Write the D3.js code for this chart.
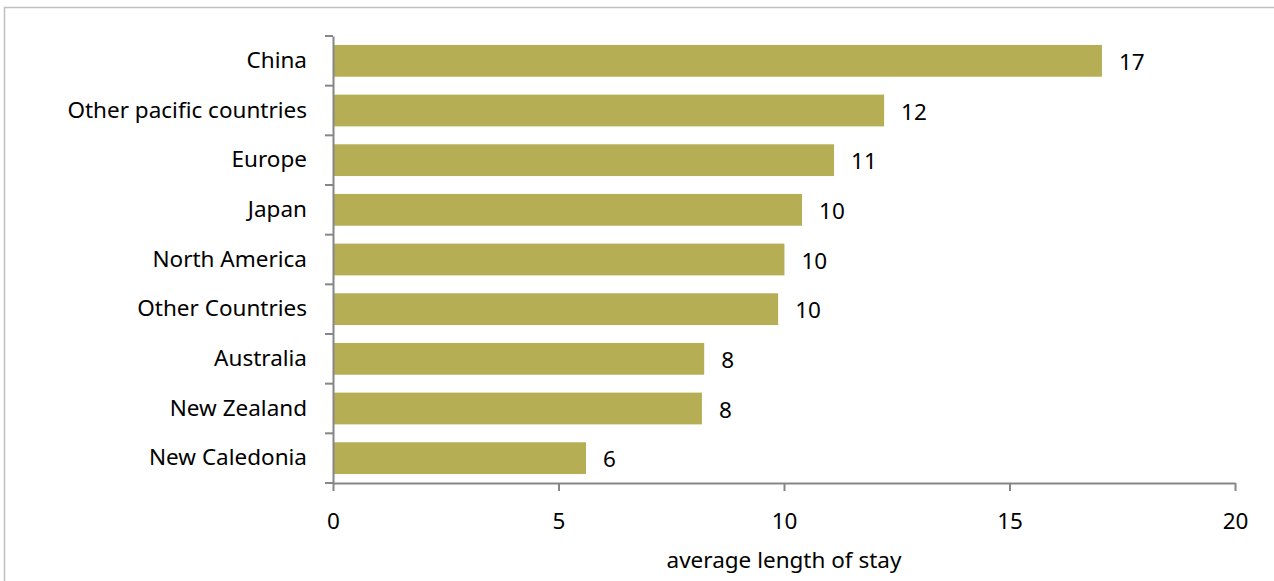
<!DOCTYPE html>
<html>
<head>
<meta charset="utf-8">
<script src="https://cdn.jsdelivr.net/npm/d3@7"></script>
<style>
  body { margin: 0; background: #fff; }
  text { font-family: "Noto Sans", sans-serif; fill: #000; }
</style>
</head>
<body>
<div class="canvas"></div>
<script>
// data
const categories = ['China', 'Other pacific countries', 'Europe', 'Japan', 'North America',
  'Other Countries', 'Australia', 'New Zealand', 'New Caledonia'];
const stayValues = [17.05, 12.22, 11.11, 10.4, 10.01, 9.87, 8.23, 8.18, 5.61];
const xTicks = [0, 5, 10, 15, 20];

const width = 1274;
const height = 581;
const fontSize = '22.5px';

const svg = d3.select('.canvas')
  .append('svg')
  .attr('width', width)
  .attr('height', height);

// chart frame (only top & left edge visible)
svg.append('path')
  .attr('d', 'M4.5,581 V7.5 H1274')
  .attr('fill', 'none')
  .attr('stroke', '#bfbfbf')
  .attr('stroke-width', 1.5);

// scales
const x = d3.scaleLinear()
  .domain([0, 20])
  .range([333, 1235]);

const y = d3.scaleBand()
  .domain(categories)
  .range([36, 483])
  .paddingInner(0.36)
  .paddingOuter(0.18);

const axisColor = '#868686';

// bars
svg.append('g')
  .selectAll('rect')
  .data(categories)
  .enter()
  .append('rect')
  .attr('x', x(0) + 1)
  .attr('y', d => y(d))
  .attr('width', (d, i) => x(stayValues[i]) - x(0) - 1)
  .attr('height', y.bandwidth())
  .attr('fill', '#b5ae55');

// value labels
svg.append('g')
  .selectAll('text')
  .data(categories)
  .enter()
  .append('text')
  .attr('x', (d, i) => x(stayValues[i]) + 17)
  .attr('y', d => y(d) + y.bandwidth() / 2)
  .attr('dy', '0.4em')
  .style('font-size', fontSize)
  .text((d, i) => Math.round(stayValues[i]));

// x axis
const xAxisGroup = svg.append('g')
  .attr('transform', `translate(0, 483)`)
  .call(d3.axisBottom(x).tickValues(xTicks).tickSize(8).tickSizeOuter(0).tickPadding(22));

xAxisGroup.select('.domain').attr('stroke', axisColor).attr('stroke-width', 2);
xAxisGroup.selectAll('.tick line').attr('stroke', axisColor).attr('stroke-width', 2);
xAxisGroup.selectAll('.tick text')
  .style('font-size', fontSize)
  .style('font-family', '"Noto Sans", sans-serif')
  .attr('fill', '#000');

// y axis: line + ticks between categories
const yAxisGroup = svg.append('g')
  .attr('transform', `translate(${x(0)}, 0)`)
  .call(d3.axisLeft(y).tickSize(0).tickPadding(26));

yAxisGroup.select('.domain').attr('stroke', axisColor).attr('stroke-width', 2);
yAxisGroup.selectAll('.tick text')
  .style('font-size', fontSize)
  .style('font-family', '"Noto Sans", sans-serif')
  .attr('fill', '#000');

const step = y.step();
yAxisGroup.append('g')
  .selectAll('line')
  .data(d3.range(categories.length + 1))
  .enter()
  .append('line')
  .attr('x1', -8)
  .attr('x2', 0)
  .attr('y1', i => 36 + i * step)
  .attr('y2', i => 36 + i * step)
  .attr('stroke', axisColor)
  .attr('stroke-width', 2);

// axis title
svg.append('text')
  .attr('x', (x(0) + x(20)) / 2)
  .attr('y', 568)
  .attr('text-anchor', 'middle')
  .style('font-size', fontSize)
  .text('average length of stay');
</script>
</body>
</html>
